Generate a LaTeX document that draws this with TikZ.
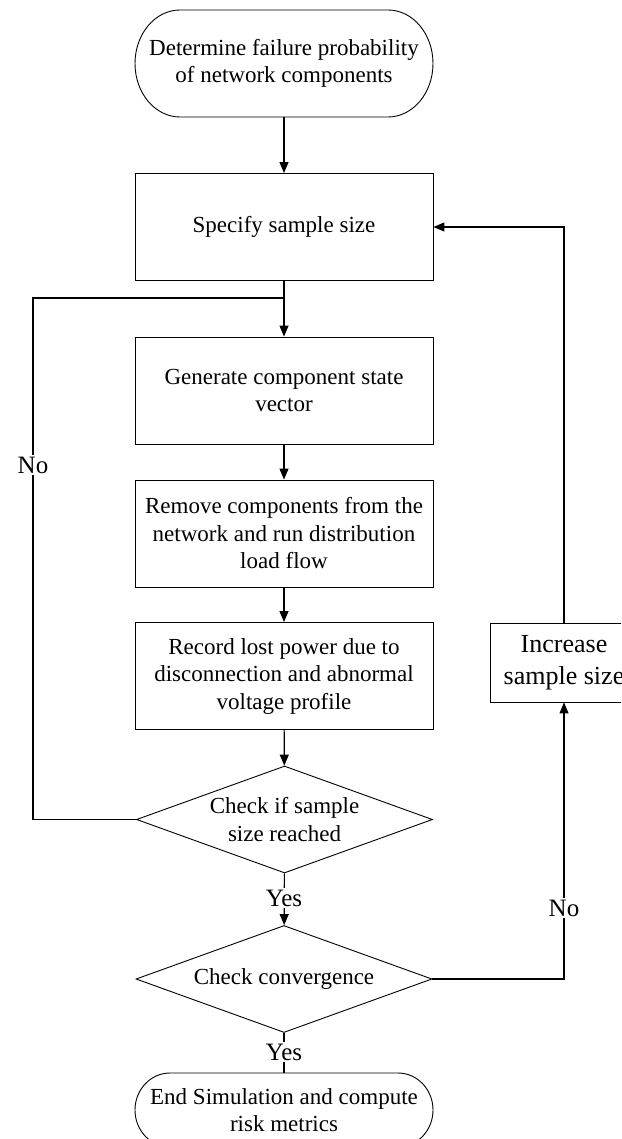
\documentclass[tikz,border=0pt]{standalone}
\usepackage{fontspec}
\setmainfont{Liberation Serif}
\usetikzlibrary{arrows.meta,shapes.geometric}

% outline of a terminal (stadium) node: node name, end x radius, half height
\newcommand\termoutline[3]{%
  \draw[line width=0.9pt] ([xshift=#2]#1.north west) -- ([xshift=-#2]#1.north east)
    arc[start angle=90,end angle=-90,x radius=#2,y radius=#3]
    -- ([xshift=#2]#1.south west)
    arc[start angle=270,end angle=90,x radius=#2,y radius=#3] -- cycle;}

\begin{document}
\begin{tikzpicture}[x=1pt,y=-1pt,
  every node/.style={font=\fontsize{23}{27.5}\selectfont, align=center},
  process/.style={draw, line width=0.9pt, rectangle, minimum width=298pt,
    minimum height=107pt, inner sep=0pt},
  decision/.style={draw, line width=0.9pt, diamond, minimum width=296pt,
    minimum height=107pt, inner sep=0pt},
  term/.style={minimum width=298pt, minimum height=107pt, inner sep=0pt, outer sep=0pt},
  flow/.style={line width=1.1pt, -{Triangle[length=11pt,width=9pt]}},
  link/.style={line width=1.1pt},
  tag/.style={fill=white, font=\fontsize{25}{30}\selectfont, inner sep=1.5pt}
]
\useasboundingbox (0,0) rectangle (621,1139);
\clip (0,0) rectangle (621,1139);

% main column
\node[term] (start) at (284,63.5) {Determine failure probability\\of network components};
\termoutline{start}{45pt}{53.5pt}
\node[process] (spec) at (284,227) {Specify sample size};
\node[process] (gen) at (284,390.5) {Generate component state\\vector};
\node[process] (rem) at (284,533.5) {Remove components from the\\network and run distribution\\load flow};
\node[process] (rec) at (284,676) {Record lost power due to\\disconnection and abnormal\\voltage profile};
\node[decision, label={center:Check if sample\\size reached}] (chk) at (284.5,819.5) {};
\node[decision, label={center:Check convergence}] (conv) at (284,979) {};
\node[term, minimum height=74pt] (stop) at (284,1110) {End Simulation and compute\\risk metrics};
\termoutline{stop}{35pt}{37pt}

% side box
\node[process, minimum width=148pt, minimum height=79pt,
  font=\fontsize{26}{32}\selectfont] (inc) at (564,662.5) {Increase\\sample size};

% connectors
\coordinate (join) at (284,298);
\coordinate (nocorner) at (33,298);
\draw[flow] (start) -- (spec);
\draw[flow] (spec) -- (gen);
\draw[flow] (gen) -- (rem);
\draw[flow] (rem) -- (rec);
\draw[flow] (rec) -- (chk);
\draw[link] (chk.west) -| (nocorner) -- (join);
\node[tag] (no1) at (33,465) {No};
\draw[flow] (chk) -- (conv);
\node[tag] (yes1) at (284,898) {Yes};
\draw[link] (conv) -- (stop);
\node[tag] (yes2) at (284,1052) {Yes};
\draw[flow] (conv.east) -| (inc.south);
\node[tag] (no2) at (564,908) {No};
\draw[flow] (inc.north) |- (spec.east);
\end{tikzpicture}
\end{document}
